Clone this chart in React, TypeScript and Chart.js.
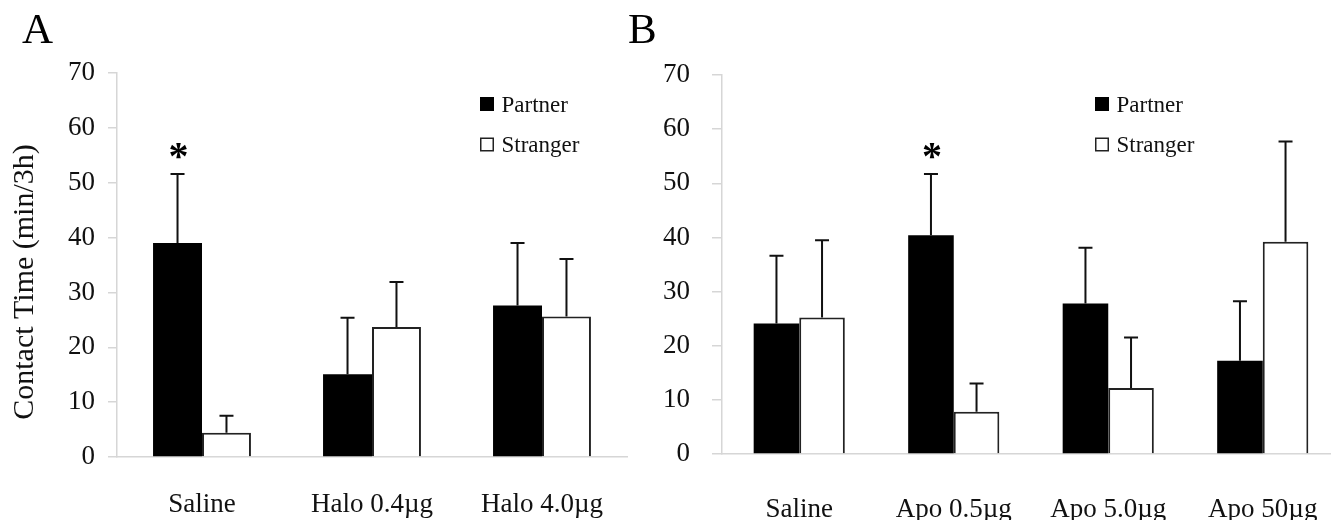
import React, { useEffect, useRef } from "react";
import { Chart, registerables } from "chart.js";

Chart.register(...registerables);

// ---------- data ----------
const seriesLabels = ["Partner", "Stranger"];
const yTitle = "Contact Time (min/3h)";
const yMin = 0;
const yMax = 70;
const yStep = 10;

const categoriesA = ["Saline", "Halo 0.4µg", "Halo 4.0µg"];
const partnerA = [39.0, 15.1, 27.6];
const partnerErrA = [12.6, 10.3, 11.4];
const strangerA = [4.4, 23.7, 25.6];
const strangerErrA = [3.1, 8.2, 10.5];
const sigA = [true, false, false];

const categoriesB = ["Saline", "Apo 0.5µg", "Apo 5.0µg", "Apo 50µg"];
const partnerB = [24.1, 40.4, 27.8, 17.2];
const partnerErrB = [12.5, 11.3, 10.3, 11.0];
const strangerB = [25.2, 7.8, 12.2, 39.2];
const strangerErrB = [14.3, 5.2, 9.3, 18.5];
const sigB = [false, true, false, false];

// ---------- styling ----------
const FONT = '"Liberation Serif", "Times New Roman", serif';
const INK = "#111111";
const AXIS = "#d6d6d6";
const FILLS = ["#000000", "#ffffff"];
const BORDERS = ["#000000", "#222222"];

type PanelCfg = {
  letter: string;
  letterX: number;
  showTitle: boolean;
  legendX: number;
  axisWidth: number;
  tickPad: number;
  tickLen: number;
  padTop: number;
  padRight: number;
  xHeight: number;
  xPad: number;
  catPct: number;
};

const decorPlugin = {
  id: "panelDecor",
  afterDatasetsDraw(chart: any, _args: any, opts: any) {
    const ctx: CanvasRenderingContext2D = chart.ctx;
    const yScale = chart.scales.y;
    const errs: number[][] = opts.errors;
    const sig: boolean[] = opts.sig;
    ctx.save();
    ctx.strokeStyle = INK;
    ctx.lineWidth = 2;
    chart.data.datasets.forEach((ds: any, di: number) => {
      const meta = chart.getDatasetMeta(di);
      meta.data.forEach((bar: any, i: number) => {
        const v = ds.data[i];
        const top = yScale.getPixelForValue(v + errs[di][i]);
        ctx.beginPath();
        ctx.moveTo(bar.x, bar.y);
        ctx.lineTo(bar.x, top);
        ctx.moveTo(bar.x - 7, top);
        ctx.lineTo(bar.x + 7, top);
        ctx.stroke();
        if (di === 0 && sig[i]) {
          ctx.fillStyle = "#000";
          ctx.font = `bold 40px ${FONT}`;
          ctx.textAlign = "center";
          ctx.textBaseline = "alphabetic";
          ctx.fillText("*", bar.x + 1, top - 5);
        }
      });
    });
    ctx.restore();
  },
  afterDraw(chart: any, _args: any, opts: any) {
    const ctx: CanvasRenderingContext2D = chart.ctx;
    ctx.save();
    ctx.fillStyle = "#000";
    ctx.font = `43px ${FONT}`;
    ctx.textAlign = "left";
    ctx.textBaseline = "alphabetic";
    ctx.fillText(opts.letter, opts.letterX, 43);
    if (opts.showTitle) {
      ctx.save();
      ctx.translate(25, 282);
      ctx.rotate(-Math.PI / 2);
      ctx.font = `30px ${FONT}`;
      ctx.fillStyle = INK;
      ctx.textAlign = "center";
      ctx.textBaseline = "middle";
      ctx.fillText(opts.yTitle, 0, 0);
      ctx.restore();
    }
    chart.data.datasets.forEach((ds: any, di: number) => {
      const y0 = 97 + di * 40.5;
      const x0 = opts.legendX;
      ctx.fillStyle = FILLS[di];
      ctx.fillRect(x0, y0, 14, 14);
      if (di === 1) {
        ctx.strokeStyle = BORDERS[1];
        ctx.lineWidth = 1.5;
        ctx.strokeRect(x0 + 0.75, y0 + 0.75, 12.5, 12.5);
      }
      ctx.fillStyle = INK;
      ctx.font = `23px ${FONT}`;
      ctx.textAlign = "left";
      ctx.textBaseline = "alphabetic";
      ctx.fillText(ds.label, x0 + 21.5, y0 + 14.5);
    });
    ctx.restore();
  },
};

function makeChart(
  canvas: HTMLCanvasElement,
  cats: string[],
  partner: number[],
  partnerErr: number[],
  stranger: number[],
  strangerErr: number[],
  sig: boolean[],
  cfg: PanelCfg
) {
  return new Chart(canvas, {
    type: "bar",
    data: {
      labels: cats,
      datasets: [
        {
          label: seriesLabels[0],
          data: partner,
          backgroundColor: FILLS[0],
          borderColor: BORDERS[0],
          borderWidth: 0,
          categoryPercentage: cfg.catPct,
          barPercentage: 1.0,
        },
        {
          label: seriesLabels[1],
          data: stranger,
          backgroundColor: FILLS[1],
          borderColor: BORDERS[1],
          borderWidth: 2,
          categoryPercentage: cfg.catPct,
          barPercentage: 1.0,
        },
      ],
    },
    options: {
      responsive: false,
      animation: false,
      devicePixelRatio: 1,
      layout: {
        padding: { left: 0, top: cfg.padTop, right: cfg.padRight, bottom: 0 },
      },
      plugins: {
        legend: { display: false },
        tooltip: { enabled: false },
        title: { display: false },
        panelDecor: {
          letter: cfg.letter,
          letterX: cfg.letterX,
          showTitle: cfg.showTitle,
          yTitle: yTitle,
          legendX: cfg.legendX,
          errors: [partnerErr, strangerErr],
          sig: sig,
        },
      } as any,
      scales: {
        x: {
          grid: { display: false, drawTicks: false },
          border: { display: true, color: AXIS, width: 1.5 },
          ticks: {
            color: INK,
            font: { family: FONT, size: 27 },
            padding: cfg.xPad,
            maxRotation: 0,
            autoSkip: false,
          },
          afterFit: (s: any) => {
            s.height = cfg.xHeight;
          },
        },
        y: {
          min: yMin,
          max: yMax,
          grid: {
            display: true,
            drawOnChartArea: false,
            drawTicks: true,
            tickLength: cfg.tickLen,
            color: AXIS,
            lineWidth: 1.5,
          },
          border: { display: true, color: AXIS, width: 1.5 },
          ticks: {
            stepSize: yStep,
            color: INK,
            font: { family: FONT, size: 27 },
            padding: cfg.tickPad,
          },
          afterFit: (s: any) => {
            s.width = cfg.axisWidth;
          },
        },
      },
    },
    plugins: [decorPlugin],
  } as any);
}

export default function App() {
  const refA = useRef<HTMLCanvasElement>(null);
  const refB = useRef<HTMLCanvasElement>(null);

  useEffect(() => {
    const a = makeChart(refA.current!, categoriesA, partnerA, partnerErrA, strangerA, strangerErrA, sigA, {
      letter: "A",
      letterX: 22,
      showTitle: true,
      legendX: 480,
      axisWidth: 117,
      tickPad: 13,
      tickLen: 9,
      padTop: 73,
      padRight: 33,
      xHeight: 63,
      xPad: 32,
      catPct: 0.576,
    });
    const b = makeChart(refB.current!, categoriesB, partnerB, partnerErrB, strangerB, strangerErrB, sigB, {
      letter: "B",
      letterX: 28,
      showTitle: false,
      legendX: 495,
      axisWidth: 122,
      tickPad: 22,
      tickLen: 10,
      padTop: 75,
      padRight: 20,
      xHeight: 66,
      xPad: 40,
      catPct: 0.59,
    });
    return () => {
      a.destroy();
      b.destroy();
    };
  }, []);

  return (
    <div
      style={{
        position: "fixed",
        left: 0,
        top: 0,
        width: 1331,
        height: 520,
        overflow: "hidden",
        background: "#ffffff",
      }}
    >
      <canvas ref={refA} width={660} height={520} style={{ position: "absolute", left: 0, top: 0 }} />
      <canvas ref={refB} width={760} height={520} style={{ position: "absolute", left: 600, top: 0 }} />
    </div>
  );
}
